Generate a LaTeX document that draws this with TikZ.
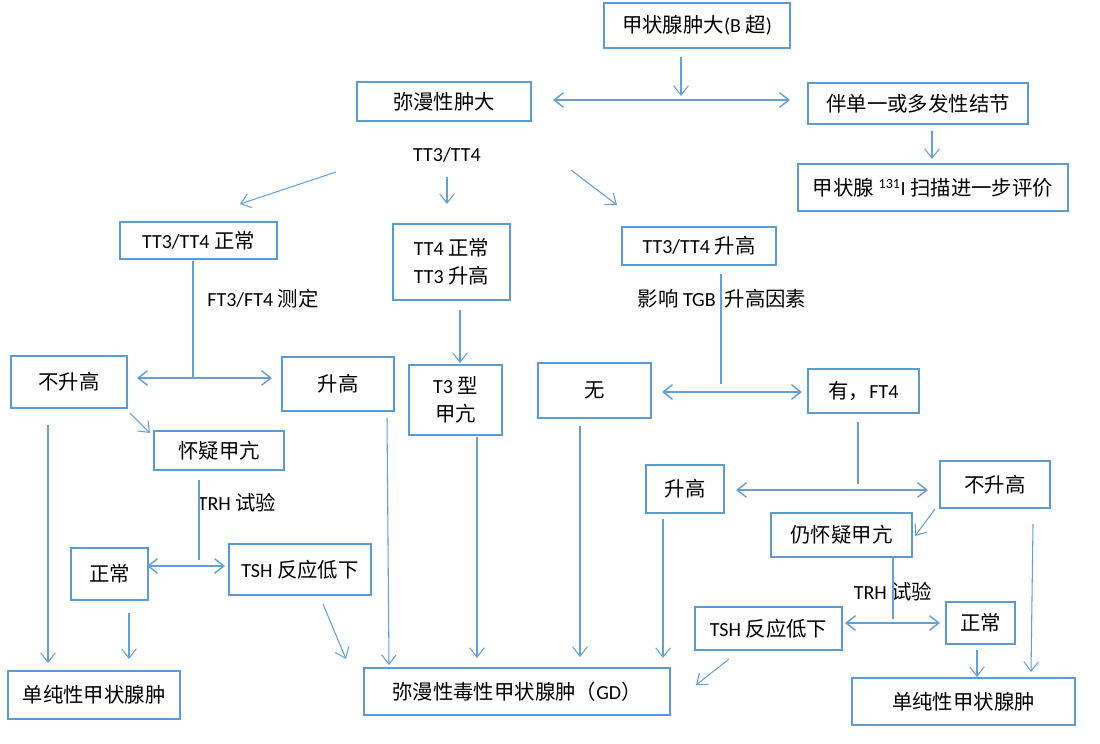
\documentclass[tikz,border=0pt]{standalone}
\usepackage{fontspec}
\setmainfont{Carlito}
\newfontfamily\zhfont[Scale=1.02]{Noto Sans CJK SC}
\newcommand\zhtext[1]{{\zhfont #1}}
\usetikzlibrary{arrows.meta}
\definecolor{boxblue}{RGB}{91,155,213}
\definecolor{lineblue}{RGB}{100,160,215}
\begin{document}
\begin{tikzpicture}[x=0.75pt,y=-0.75pt,
  box/.style={draw=boxblue,line width=2pt,inner sep=0pt,align=center,text=black,font=\fontsize{15}{21}\selectfont},
  lbl/.style={inner sep=0pt,text=black,font=\fontsize{15}{18}\selectfont},
  tip/.tip={Straight Barb[length=7pt,width=11pt]},
  arr/.style={draw=lineblue,line width=0.8pt,-tip},
  darr/.style={draw=lineblue,line width=1.1pt,tip-tip},
  stem/.style={draw=lineblue,line width=0.8pt}]
\useasboundingbox (0,0) rectangle (1100,743);

% boxes
\node[box,minimum width=139.5pt,minimum height=33.75pt] (b1) at (697,25.5) {\zhtext{甲状腺肿大}(B \zhtext{超})};
\node[box,minimum width=130.5pt,minimum height=29.25pt] (b2) at (444,101.5) {\zhtext{弥漫性肿大}};
\node[box,minimum width=165pt,minimum height=30.75pt] (b3) at (918,103.5) {\zhtext{伴单一或多发性结节}};
\node[box,minimum width=202.5pt,minimum height=35.25pt] (b4) at (933,187.5) {\zhtext{甲状腺} \textsuperscript{131}I \zhtext{扫描进一步评价}};
\node[box,minimum width=117.75pt,minimum height=27.75pt] (b5) at (198.5,240.5) {TT3/TT4 \zhtext{正常}};
\node[box,minimum width=87.75pt,minimum height=57pt] (b6) at (451.5,262) {TT4 \zhtext{正常}\\TT3 \zhtext{升高}};
\node[box,minimum width=115.5pt,minimum height=28.5pt] (b7) at (699,246) {TT3/TT4 \zhtext{升高}};
\node[box,minimum width=87pt,minimum height=39pt] (b8) at (69,382) {\zhtext{不升高}};
\node[box,minimum width=84pt,minimum height=40.5pt] (b9) at (338,384) {\zhtext{升高}};
\node[box,minimum width=69.75pt,minimum height=52.5pt] (b10) at (455.5,400) {T3 \zhtext{型}\\\zhtext{甲亢}};
\node[box,minimum width=84.75pt,minimum height=41.25pt] (b11) at (594.5,390.5) {\zhtext{无}};
\node[box,minimum width=83.25pt,minimum height=33pt] (b12) at (863.5,391) {\zhtext{有，}FT4};
\node[box,minimum width=97.5pt,minimum height=29.25pt] (b13) at (219,450.5) {\zhtext{怀疑甲亢}};
\node[box,minimum width=57.75pt,minimum height=39pt] (b14) at (109.5,574) {\zhtext{正常}};
\node[box,minimum width=106.5pt,minimum height=38.25pt] (b15) at (300,569.5) {TSH \zhtext{反应低下}};
\node[box,minimum width=129pt,minimum height=36pt] (b16) at (94,695) {\zhtext{单纯性甲状腺肿}};
\node[box,minimum width=229.5pt,minimum height=35.25pt] (b17) at (517,691.5) {\zhtext{弥漫性毒性甲状腺肿（}GD\zhtext{）}};
\node[box,minimum width=58.5pt,minimum height=36pt] (b18) at (685,489) {\zhtext{升高}};
\node[box,minimum width=82.5pt,minimum height=35.25pt] (b19) at (995,484.5) {\zhtext{不升高}};
\node[box,minimum width=105.75pt,minimum height=33pt] (b20) at (841.5,535) {\zhtext{仍怀疑甲亢}};
\node[box,minimum width=110.25pt,minimum height=32.25pt] (b21) at (768.5,628.5) {TSH \zhtext{反应低下}};
\node[box,minimum width=51.75pt,minimum height=31.5pt] (b22) at (980.5,623) {\zhtext{正常}};
\node[box,minimum width=167.25pt,minimum height=35.25pt] (b23) at (963.5,701.5) {\zhtext{单纯性甲状腺肿}};

% labels
\node[lbl] (t1) at (447,155) {TT3/TT4};
\node[lbl] (t2) at (263,299) {FT3/FT4 \zhtext{测定}};
\node[lbl] (t3) at (722,299) {\zhtext{影响} TGB \ \zhtext{升高因素}};
\node[lbl] (t4) at (237,503) {TRH \zhtext{试验}};
\node[lbl] (t5) at (893,592) {TRH \zhtext{试验}};

% connector end points
\coordinate (p1s) at (681,57);   \coordinate (p1e) at (681,96);
\coordinate (j1a) at (553,100);  \coordinate (j1b) at (790,100);
\coordinate (p2s) at (932,131);  \coordinate (p2e) at (932,159);
\coordinate (p3s) at (336,172);  \coordinate (p3e) at (240,204);
\coordinate (p4s) at (447,177);  \coordinate (p4e) at (447,204);
\coordinate (p5s) at (571,170);  \coordinate (p5e) at (617,205);
\coordinate (s1s) at (193,261);  \coordinate (s1e) at (193,377);
\coordinate (j2a) at (137,378);  \coordinate (j2b) at (272,378);
\coordinate (p6s) at (460,310);  \coordinate (p6e) at (460,363);
\coordinate (s2s) at (721,274);  \coordinate (s2e) at (721,384);
\coordinate (j3a) at (662,392);  \coordinate (j3b) at (802,392);
\coordinate (p7s) at (130,413);  \coordinate (p7e) at (150,433);
\coordinate (s3s) at (199,480);  \coordinate (s3e) at (199,560);
\coordinate (j4a) at (147,566);  \coordinate (j4b) at (225,566);
\coordinate (p8s) at (48,425);   \coordinate (p8e) at (48,663);
\coordinate (p9s) at (129,613);  \coordinate (p9e) at (129,659);
\coordinate (p10s) at (323,604); \coordinate (p10e) at (346,659);
\coordinate (p11s) at (387,418); \coordinate (p11e) at (389,665);
\coordinate (p12s) at (477,437); \coordinate (p12e) at (477,658);
\coordinate (p13s) at (580,426); \coordinate (p13e) at (580,657);
\coordinate (s4s) at (858,422);  \coordinate (s4e) at (858,484);
\coordinate (j5a) at (736,490);  \coordinate (j5b) at (928,490);
\coordinate (p14s) at (935,509); \coordinate (p14e) at (915,536);
\coordinate (s5s) at (893,558);  \coordinate (s5e) at (893,619);
\coordinate (j6a) at (845,623);  \coordinate (j6b) at (940,623);
\coordinate (p15s) at (663,519); \coordinate (p15e) at (663,658);
\coordinate (p16s) at (729,659); \coordinate (p16e) at (696,685);
\coordinate (p17s) at (977,650); \coordinate (p17e) at (977,677);
\coordinate (p18s) at (1033,524);\coordinate (p18e) at (1031,672);

% connectors
\draw[arr] (p1s) -- (p1e);
\draw[darr] (j1a) -- (j1b);
\draw[arr] (p2s) -- (p2e);
\draw[arr] (p3s) -- (p3e);
\draw[arr] (p4s) -- (p4e);
\draw[arr] (p5s) -- (p5e);
\draw[stem] (s1s) -- (s1e);
\draw[darr] (j2a) -- (j2b);
\draw[arr] (p6s) -- (p6e);
\draw[stem] (s2s) -- (s2e);
\draw[darr] (j3a) -- (j3b);
\draw[arr] (p7s) -- (p7e);
\draw[stem] (s3s) -- (s3e);
\draw[darr] (j4a) -- (j4b);
\draw[arr] (p8s) -- (p8e);
\draw[arr] (p9s) -- (p9e);
\draw[arr] (p10s) -- (p10e);
\draw[arr] (p11s) -- (p11e);
\draw[arr] (p12s) -- (p12e);
\draw[arr] (p13s) -- (p13e);
\draw[stem] (s4s) -- (s4e);
\draw[darr] (j5a) -- (j5b);
\draw[arr] (p14s) -- (p14e);
\draw[stem] (s5s) -- (s5e);
\draw[darr] (j6a) -- (j6b);
\draw[arr] (p15s) -- (p15e);
\draw[arr] (p16s) -- (p16e);
\draw[arr] (p17s) -- (p17e);
\draw[arr] (p18s) -- (p18e);
\end{tikzpicture}
\end{document}
